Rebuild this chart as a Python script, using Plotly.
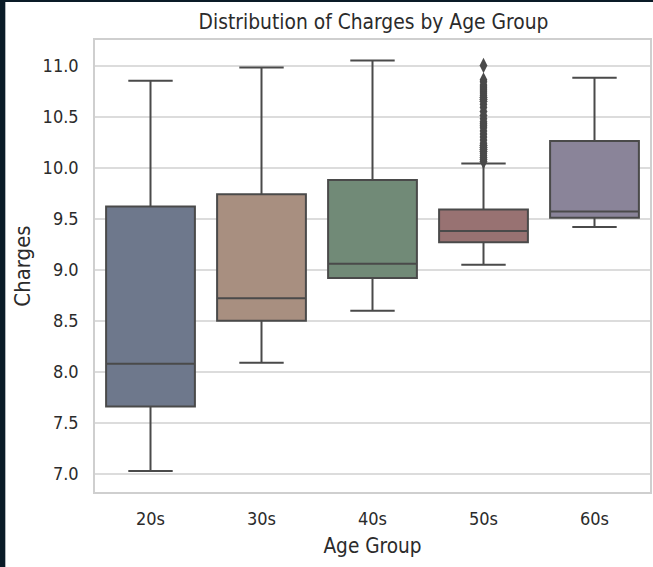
import plotly.graph_objects as go

# ---- data ----
age_groups = ["20s", "30s", "40s", "50s", "60s"]
lower_whisker = [7.03, 8.09, 8.60, 9.05, 9.42]
q1_vals = [7.66, 8.50, 8.92, 9.27, 9.51]
median_vals = [8.08, 8.72, 9.06, 9.38, 9.57]
q3_vals = [9.62, 9.74, 9.88, 9.59, 10.26]
upper_whisker = [10.85, 10.98, 11.05, 10.04, 10.88]
box_colors = ["#6e788c", "#a88f80", "#718a77", "#987272", "#8a8499"]

outlier_group = "50s"
outlier_values = [10.06, 10.08, 10.10, 10.12, 10.14, 10.16, 10.18, 10.20, 10.22,
                  10.24, 10.27, 10.30, 10.33, 10.36, 10.39, 10.41, 10.43, 10.45,
                  10.48, 10.51, 10.55, 10.59, 10.62, 10.65, 10.67, 10.69, 10.71,
                  10.73, 10.75, 10.77, 10.79, 10.81, 10.84, 10.86, 11.00]

y_ticks = [7.0, 7.5, 8.0, 8.5, 9.0, 9.5, 10.0, 10.5, 11.0]

EDGE = "#4a4a4a"
TEXT = "#2b2b2b"
FONT = "DejaVu Sans Condensed, DejaVu Sans"

fig = go.Figure()
for i, g in enumerate(age_groups):
    fig.add_trace(go.Box(
        x=[g],
        q1=[q1_vals[i]], median=[median_vals[i]], q3=[q3_vals[i]],
        lowerfence=[lower_whisker[i]], upperfence=[upper_whisker[i]],
        fillcolor=box_colors[i],
        line=dict(color=EDGE, width=2),
        whiskerwidth=0.5,
        width=0.8,
        boxpoints=False,
        name=g,
        showlegend=False,
    ))

fig.add_trace(go.Scatter(
    x=[outlier_group] * len(outlier_values),
    y=outlier_values,
    mode="markers",
    marker=dict(symbol="diamond-tall", size=11, color=EDGE, line=dict(width=0)),
    showlegend=False,
))

fig.update_layout(
    width=653, height=567,
    margin=dict(l=95, r=1, t=40, b=75),
    paper_bgcolor="#0a1b27",
    plot_bgcolor="white",
    boxmode="overlay",
    font=dict(family=FONT, color=TEXT),
    title=dict(text="Distribution of Charges by Age Group",
               x=(95 + 652) / 2 / 653, xanchor="center",
               y=1 - 22 / 567, yanchor="middle", yref="container",
               font=dict(size=20.8, family=FONT, color=TEXT)),
    shapes=[dict(type="rect", xref="paper", yref="paper",
                 x0=-90 / 557, x1=1.02, y0=-0.2, y1=490 / 452,
                 fillcolor="white", line=dict(width=0), layer="below")],
    xaxis=dict(
        type="category", categoryorder="array", categoryarray=age_groups,
        range=[-0.5, 4.5],
        showgrid=False, zeroline=False,
        showline=True, mirror=True, linecolor="#cfcfcf", linewidth=1.5,
        ticks="", ticklabelstandoff=10,
        tickfont=dict(size=18, family=FONT, color=TEXT),
        title=dict(text="Age Group", standoff=10,
                   font=dict(size=20.6, family=FONT, color=TEXT)),
    ),
    yaxis=dict(
        range=[6.824, 11.25],
        tickvals=y_ticks, tickformat=".1f",
        showgrid=True, gridcolor="#dcdcdc", gridwidth=1.5,
        zeroline=False,
        showline=True, mirror=True, linecolor="#cfcfcf", linewidth=1.5,
        ticks="", ticklabelstandoff=11,
        tickfont=dict(size=18, family=FONT, color=TEXT),
        title=dict(text="Charges", standoff=6,
                   font=dict(size=22, family=FONT, color=TEXT)),
    ),
)

fig.write_html("out.html")
